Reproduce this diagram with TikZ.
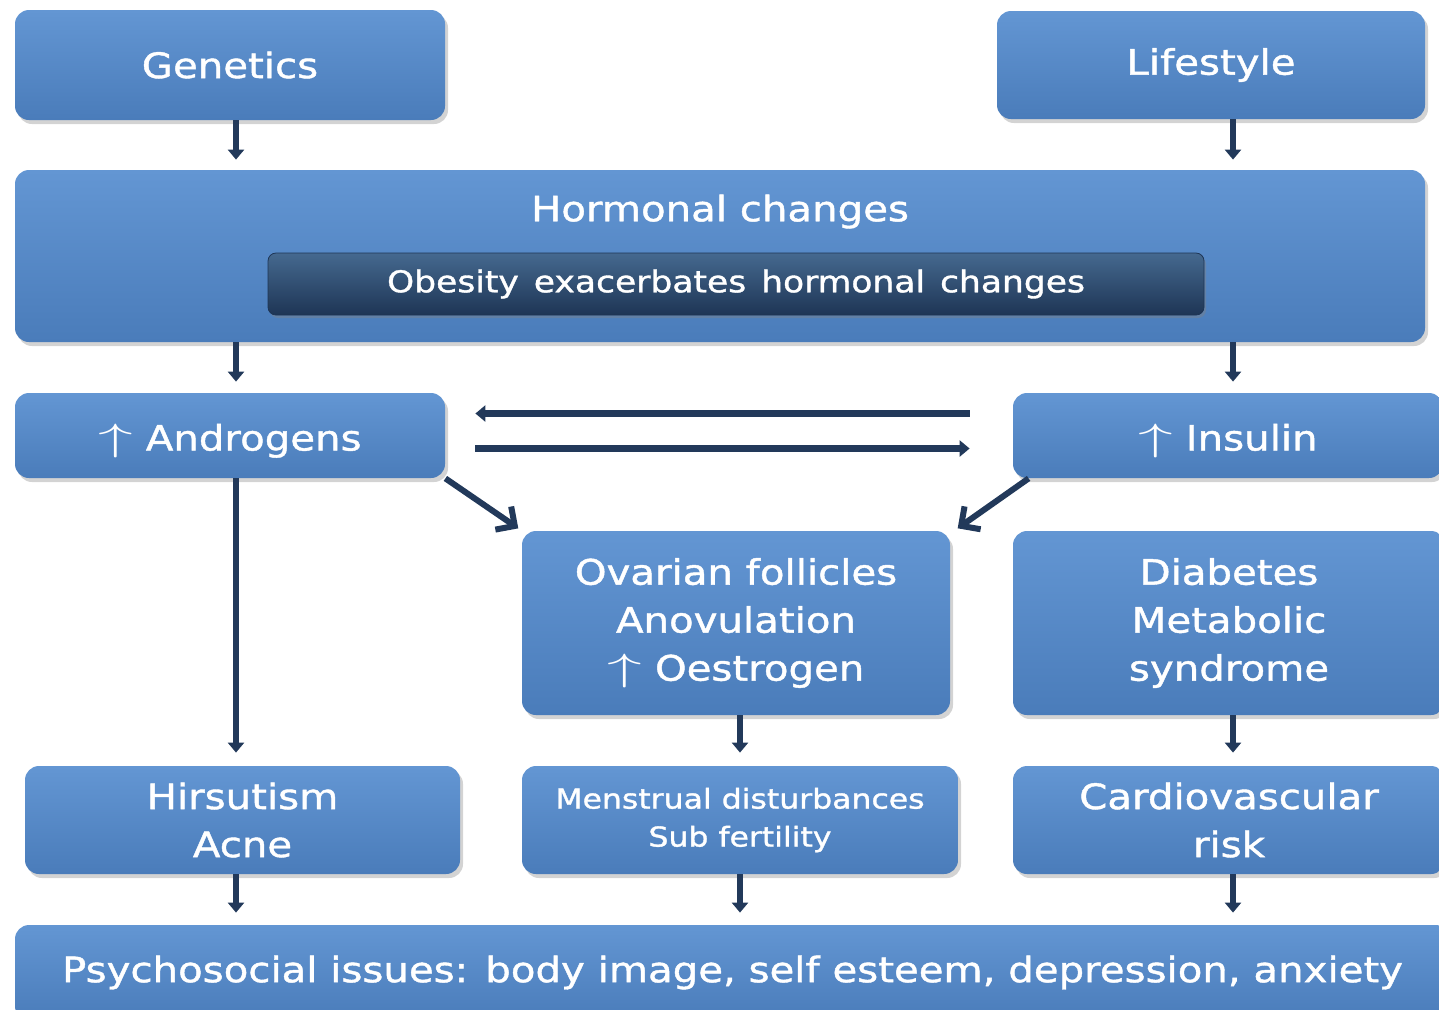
\documentclass[tikz,border=0pt]{standalone}
\usepackage{fontspec}
\setmainfont{DejaVu Sans}
\newfontfamily\boxfont{DejaVu Sans}[FakeStretch=1.15, FakeBold=1.2]
\usetikzlibrary{positioning, arrows.meta, shadows}

\definecolor{boxblue}{HTML}{4A7CBA}
\definecolor{boxtop}{HTML}{6396D3}
\definecolor{darkblue}{HTML}{1E3555}
\definecolor{darktop}{HTML}{45698F}
\definecolor{arrowblue}{HTML}{22395A}

\newcommand{\uparr}{\scalebox{2}[1.1]{$\uparrow$}}

\begin{document}
\begin{tikzpicture}
    [
        x=1pt, y=1pt, on grid,
        blue_box/.style={rectangle, rounded corners=7pt, top color=boxtop, bottom color=boxblue, text=white, align=center, inner sep=2pt, font=\boxfont\fontsize{17.5}{24}\selectfont, drop shadow={opacity=0.35, shadow xshift=1.5pt, shadow yshift=-2pt}},
        dark_box/.style={rectangle, rounded corners=4pt, top color=darktop, bottom color=darkblue, draw=darkblue, text=white, font=\boxfont\fontsize{15}{18}\selectfont, minimum width=468pt, minimum height=31pt, drop shadow={opacity=0.4, shadow xshift=1pt, shadow yshift=-1.5pt}},
        down_arrow/.style={-{Triangle[width=8pt, length=5pt]}, line width=3pt, color=arrowblue},
        side_arrow/.style={-{Triangle[width=8pt, length=5pt]}, line width=3.5pt, color=arrowblue},
        slant_arrow/.style={-{Straight Barb[width=14pt, length=7pt, line width=3pt]}, line width=3pt, color=arrowblue},
    ]
        \useasboundingbox (0,0) rectangle (719.5,-504.5);
        \clip (0,0) rectangle (719.5,-504.5);
        % top row
        \node[blue_box, minimum width=215pt, minimum height=55pt] (genetics) at (115,-32.5) {Genetics};
        \node[blue_box, minimum width=214pt, minimum height=54pt] (lifestyle) [right=490.5pt of genetics] {Lifestyle};
        \node[blue_box, minimum width=705pt, minimum height=86pt,
            label={[anchor=center, yshift=-21pt, text=white, font=\boxfont\fontsize{17.5}{24}\selectfont]north:Hormonal changes}] (hormonal) at (360,-128) {};
        \node[dark_box] (obesity) at (368,-142) {Obesity\hspace{0.5em}exacerbates\hspace{0.5em}hormonal\hspace{0.5em}changes};
        % middle rows
        \node[blue_box, minimum width=215pt, minimum height=42.5pt, text height=19pt, text depth=4pt] (androgens) [below=185.25pt of genetics] {\uparr\ Androgens};
        \node[blue_box, minimum width=215pt, minimum height=42.5pt, text height=19pt, text depth=4pt] (insulin) [right=499pt of androgens] {\uparr\ Insulin};
        \node[blue_box, minimum width=214pt, minimum height=92pt] (ovarian) at (368,-311.5) {Ovarian follicles\\Anovulation\\\uparr\ Oestrogen};
        \node[blue_box, minimum width=216pt, minimum height=92pt] (diabetes) [right=246.5pt of ovarian] {Diabetes\\Metabolic\\syndrome};
        % outcomes
        \node[blue_box, minimum width=217.5pt, minimum height=54pt] (hirsutism) at (121.25,-410) {Hirsutism\\Acne};
        \node[blue_box, minimum width=218pt, minimum height=54pt, font=\boxfont\fontsize{13.7}{19}\selectfont] (menstrual) [right=248.75pt of hirsutism] {Menstrual disturbances\\Sub fertility};
        \node[blue_box, minimum width=216pt, minimum height=54pt] (cardio) [right=244.5pt of menstrual] {Cardiovascular\\risk};
        \node[blue_box, minimum width=717.5pt, minimum height=47.5pt] (psycho) at (366.25,-486.25) {Psychosocial issues: body image, self esteem, depression, anxiety};
        % connectors
        \draw[down_arrow, shorten >=5pt] ([xshift=3pt]genetics.south) -- ([xshift=3pt]genetics.south |- hormonal.north);
        \draw[down_arrow, shorten >=5pt] ([xshift=2.5pt]lifestyle.south -| insulin) -- ([xshift=2.5pt]hormonal.north -| insulin);
        \draw[down_arrow, shorten >=5.5pt] ([xshift=3pt]hormonal.south -| androgens) -- ([xshift=3pt]androgens.north);
        \draw[down_arrow, shorten >=5.5pt] ([xshift=2.5pt]hormonal.south -| insulin) -- ([xshift=2.5pt]insulin.north);
        \draw[side_arrow, shorten <=21.5pt, shorten >=15pt] ([yshift=11pt]insulin.west) -- ([yshift=11pt]androgens.east);
        \draw[side_arrow, shorten <=15pt, shorten >=21.5pt] ([yshift=-6.5pt]androgens.east) -- ([yshift=-6.5pt]insulin.west);
        \draw[slant_arrow, shorten >=2pt] (androgens.south east) -- (ovarian.north west);
        \draw[slant_arrow, shorten >=2pt] ([xshift=8pt]insulin.south west) -- ([xshift=2pt]ovarian.north east);
        \draw[down_arrow, shorten >=6.5pt] ([xshift=3pt]androgens.south) -- ([xshift=3pt]androgens.south |- hirsutism.north);
        \draw[down_arrow, shorten >=6.5pt] (ovarian.south -| menstrual) -- (menstrual.north);
        \draw[down_arrow, shorten >=6.5pt] ([xshift=2pt]diabetes.south) -- ([xshift=2pt]cardio.north);
        \draw[down_arrow, shorten >=6pt] ([xshift=3pt]hirsutism.south -| androgens) -- ([xshift=3pt]psycho.north -| androgens);
        \draw[down_arrow, shorten >=6pt] (menstrual.south) -- (psycho.north -| menstrual);
        \draw[down_arrow, shorten >=6pt] ([xshift=2pt]cardio.south) -- ([xshift=2pt]psycho.north -| cardio);
    \end{tikzpicture}
\end{document}
